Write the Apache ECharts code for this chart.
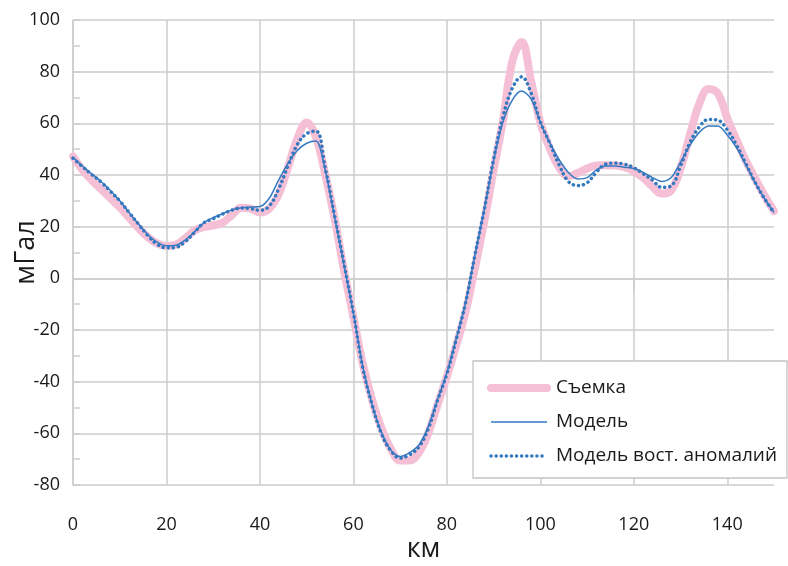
<!DOCTYPE html>
<html>
<head>
<meta charset="utf-8">
<script src="https://cdn.jsdelivr.net/npm/echarts@6/dist/echarts.min.js"></script>
<style>
html,body{margin:0;padding:0;background:#fff;}
#chart{width:788px;height:566px;}
</style>
</head>
<body>
<div id="chart"></div>
<script>
var km = [0,2,4,6,8,10,12,14,16,18,20,22,24,26,28,30,32,34,36,38,40,42,44,46,48,50,52,54,56,58,60,62,64,66,68,70,72,74,76,78,80,82,84,86,88,90,92,94,96,98,100,102,104,106,108,110,112,114,116,118,120,122,124,126,128,130,132,134,136,138,140,142,144,146,148,150];

var survey = [47.2,42,38,34.5,31,27.5,23.5,19.5,16,13.5,12.5,13,15.5,18.5,19.8,20.5,21.5,24.5,27.3,27,25.5,27,32.5,43,54,60.3,54.6,40,23,3,-15,-33,-47,-58,-66,-70.5,-70.5,-67.5,-60,-49,-38,-26,-13,4,22,42,61,84,91.5,76.5,60.3,50.5,43,39.5,40.8,42.5,43.7,43.8,43.7,43,41.5,39,35.5,32.8,34,42.5,55.5,67.5,73.3,71.5,62,53.5,45.5,38.5,32,26];

var model = [47,43.5,40.5,37.5,34,30,25.5,21,17,14,12.6,12.8,14.8,18,21.5,23.5,25,26.5,27.3,27.6,27.8,31,38,44.5,49.5,52.3,53.2,41.5,23.5,5,-13.5,-34,-48.8,-59.5,-66.5,-69,-67.5,-64.5,-57.5,-47,-36.5,-23.5,-9.5,9,26.5,45.5,60.5,69,72.5,69.5,60.5,52.5,46,41,38.5,39,42,43.5,43.5,43,42.5,41,39,37.5,39,45,51.5,56.5,59,59,55.5,50.5,43.8,37,30.8,25.5];

var restored = [46.5,43.3,40.2,37.3,33.7,30,25.5,21,16.6,13.2,11.8,12,14.2,17.8,21.5,23.1,24.9,26.4,27.2,27,26.3,28,34.6,43.5,51.8,56,57,42.4,24,5.5,-13.5,-34.6,-48.9,-60.1,-66.7,-69.6,-68.3,-65.3,-58.3,-47.2,-37,-23.7,-9.5,9,26.6,46,62.5,73.6,78,71.8,60.5,52.4,44,37.5,35.9,37,41.1,44.2,44.6,44.2,42.8,40.5,38,35.2,35.8,43.5,52.5,58.5,61.5,61.2,57.5,51.5,44.3,37,30.8,25.5];

var seriesNames = ['Съемка', 'Модель', 'Модель вост. аномалий'];
var xTicks = [0,20,40,60,80,100,120,140];

function pairs(vals){ return km.map(function(x,i){ return [x, vals[i]]; }); }

var FONT = 'Open Sans';
var pink = '#f5c0d6';
var blue = '#3478c0';
var gridColor = '#cdcdcd';

var chart = echarts.init(document.getElementById('chart'), null, {renderer:'canvas'});
chart.setOption({
  animation: false,
  backgroundColor: '#ffffff',
  textStyle: {fontFamily: FONT},
  grid: {left: 73, right: 14, top: 20, bottom: 81, containLabel: false, outerBoundsMode: 'none'},
  legend: {
    show: true,
    orient: 'vertical',
    left: 473, top: 361,
    backgroundColor: '#ffffff',
    borderColor: '#c4c4c4', borderWidth: 1.3,
    padding: [17, 10, 12, 14],
    itemWidth: 56, itemHeight: 20, itemGap: 14,
    textStyle: {fontFamily: FONT, fontSize: 19, lineHeight: 20, color: '#1a1a1a', padding: [0, 0, 0, 4]},
    data: [
      {name: seriesNames[0], itemStyle: {opacity: 0}, lineStyle: {width: 8, color: pink, cap: 'round'}},
      {name: seriesNames[1], itemStyle: {opacity: 0}, lineStyle: {width: 1.5, color: blue}},
      {name: seriesNames[2], itemStyle: {opacity: 0}, lineStyle: {width: 3.5, color: blue, type: [0.1, 5], cap: 'round'}}
    ]
  },
  xAxis: {
    type: 'value', min: 0, max: 150, interval: 20,
    name: 'км', nameLocation: 'middle', nameGap: 51, nameMoveOverlap: false,
    nameTextStyle: {fontFamily: FONT, fontSize: 27, color: '#1a1a1a'},
    axisLine: {show: true, lineStyle: {color: gridColor, width: 1.5}},
    axisTick: {show: true, inside: false, length: 13, lineStyle: {color: gridColor, width: 1.5}, customValues: xTicks},
    axisLabel: {fontFamily: FONT, fontSize: 18, color: '#1a1a1a', margin: 31, customValues: xTicks},
    splitLine: {show: true, lineStyle: {color: gridColor, width: 1.5}}
  },
  yAxis: {
    type: 'value', min: -80, max: 100, interval: 20,
    name: 'мГал', nameLocation: 'middle', nameGap: 33, nameRotate: 90, nameMoveOverlap: false,
    nameTextStyle: {fontFamily: FONT, fontSize: 27, color: '#1a1a1a'},
    axisLine: {show: true, lineStyle: {color: gridColor, width: 1.5}},
    axisTick: {show: true, inside: true, length: 7, lineStyle: {color: gridColor, width: 1.5}},
    minorTick: {show: true, splitNumber: 2, length: 7, lineStyle: {color: gridColor, width: 1.5}},
    axisLabel: {fontFamily: FONT, fontSize: 18, color: '#1a1a1a', margin: 13},
    splitLine: {show: true, lineStyle: {color: gridColor, width: 1.5}}
  },
  series: [
    {name: seriesNames[0], type: 'line', data: pairs(survey), smooth: 0.4, symbol: 'none',
     lineStyle: {width: 8, color: pink, cap: 'round', join: 'round'}, itemStyle: {color: pink}, z: 1},
    {name: seriesNames[1], type: 'line', data: pairs(model), smooth: 0.3, symbol: 'none',
     lineStyle: {width: 1.5, color: blue}, itemStyle: {color: blue}, z: 2},
    {name: seriesNames[2], type: 'line', data: pairs(restored), smooth: 0.4, symbol: 'none',
     lineStyle: {width: 3.5, color: blue, type: [0.1, 5], cap: 'round'}, itemStyle: {color: blue}, z: 3}
  ]
});
</script>
</body>
</html>
